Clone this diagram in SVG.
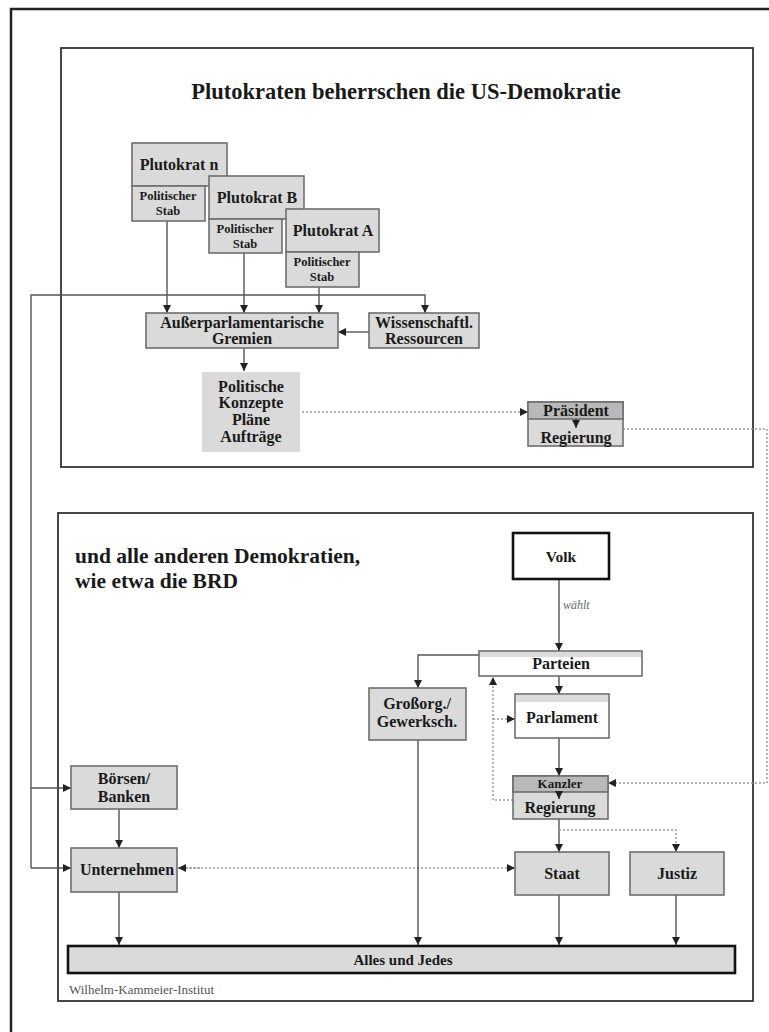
<svg xmlns="http://www.w3.org/2000/svg" width="769" height="1032" viewBox="0 0 769 1032" font-family="'Liberation Serif', 'DejaVu Serif', serif">
<style>
text{font-family:'Liberation Serif','DejaVu Serif',serif;font-weight:700;fill:#1a1a1a;text-anchor:middle}
.box{fill:#dadada;stroke:#6e6e6e;stroke-width:1.6}
.dark{fill:#b9b9b9;stroke:#6e6e6e;stroke-width:1.6}
.wbox{fill:#ffffff;stroke:#6e6e6e;stroke-width:1.6}
.frame{fill:none;stroke:#333;stroke-width:1.8}
.ln{fill:none;stroke:#555;stroke-width:1.4}
.dot{fill:none;stroke:#9a9a9a;stroke-width:1.5;stroke-dasharray:2 2}
.t15{font-size:16px}
.t11{font-size:12.5px}
</style>
<defs>
<marker id="ah" viewBox="0 0 10 10" refX="10" refY="5" markerWidth="8" markerHeight="8" markerUnits="userSpaceOnUse" orient="auto">
<path d="M0,0 L10,5 L0,10 z" fill="#222"/>
</marker>
</defs>
<rect width="769" height="1032" fill="#ffffff"/>
<rect x="11" y="9" width="800" height="1100" fill="none" stroke="#222" stroke-width="2.5"/>
<rect class="frame" x="61" y="48" width="692" height="419"/>
<rect class="frame" x="58" y="513" width="695" height="488"/>
<text x="406" y="99" style="font-size:22.5px">Plutokraten beherrschen die US-Demokratie</text>
<text x="75" y="563" style="font-size:21.5px;text-anchor:start">und alle anderen Demokratien,</text>
<text x="75" y="588" style="font-size:21.5px;text-anchor:start">wie etwa die BRD</text>
<text x="69" y="994" style="font-size:13px;font-weight:normal;fill:#555;text-anchor:start">Wilhelm-Kammeier-Institut</text>

<g id="connectors">
<line class="ln" x1="167" y1="221" x2="167" y2="313" marker-end="url(#ah)"/>
<line class="ln" x1="244" y1="253" x2="244" y2="313" marker-end="url(#ah)"/>
<line class="ln" x1="319" y1="287" x2="319" y2="313" marker-end="url(#ah)"/>
<polyline class="ln" points="31,868 31,295 425,295 425,313" marker-end="url(#ah)"/>
<line class="ln" x1="31" y1="788" x2="71" y2="788" marker-end="url(#ah)"/>
<line class="ln" x1="31" y1="868" x2="71" y2="868" marker-end="url(#ah)"/>
<line class="ln" x1="369" y1="332" x2="338" y2="332" marker-end="url(#ah)"/>
<line class="ln" x1="244" y1="348" x2="244" y2="371" marker-end="url(#ah)"/>
<line class="dot" x1="302" y1="412" x2="528" y2="412" marker-end="url(#ah)"/>
<polyline class="dot" points="623,429 767,429 767,783 608,783" marker-end="url(#ah)"/>
<line class="ln" x1="559" y1="579" x2="559" y2="651" marker-end="url(#ah)"/>
<line class="ln" x1="559" y1="676" x2="559" y2="694" marker-end="url(#ah)"/>
<polyline class="ln" points="479,655 418,655 418,688" marker-end="url(#ah)"/>
<line class="ln" x1="559" y1="738" x2="559" y2="776" marker-end="url(#ah)"/>
<polyline class="dot" points="513,800 493,800 493,677" marker-end="url(#ah)"/>
<line class="dot" x1="493" y1="719" x2="515" y2="719" marker-end="url(#ah)"/>
<line class="ln" x1="559" y1="819" x2="559" y2="852" marker-end="url(#ah)"/>
<polyline class="dot" points="559,830 676,830 676,852" marker-end="url(#ah)"/>
<line class="ln" x1="119" y1="809" x2="119" y2="848" marker-end="url(#ah)"/>
<line class="dot" x1="185" y1="868" x2="515" y2="868" marker-end="url(#ah)"/>
<line class="dot" x1="200" y1="868" x2="178" y2="868" marker-end="url(#ah)"/>
<line class="ln" x1="119" y1="892" x2="119" y2="945" marker-end="url(#ah)"/>
<line class="ln" x1="418" y1="740" x2="418" y2="945" marker-end="url(#ah)"/>
<line class="ln" x1="559" y1="895" x2="559" y2="945" marker-end="url(#ah)"/>
<line class="ln" x1="676" y1="895" x2="676" y2="945" marker-end="url(#ah)"/>
</g>

<g id="plutokrat-n">
<rect class="box" x="132" y="143" width="95" height="43"/>
<text class="t15" x="179" y="170">Plutokrat n</text>
<rect class="box" x="132" y="186" width="73" height="35"/>
<text class="t11" x="168" y="200">Politischer</text>
<text class="t11" x="168" y="215">Stab</text>
</g>
<g id="plutokrat-b">
<rect class="box" x="209" y="176" width="95" height="43"/>
<text class="t15" x="257" y="203">Plutokrat B</text>
<rect class="box" x="209" y="219" width="73" height="34"/>
<text class="t11" x="245" y="233">Politischer</text>
<text class="t11" x="245" y="248">Stab</text>
</g>
<g id="plutokrat-a">
<rect class="box" x="286" y="209" width="93" height="43"/>
<text class="t15" x="333" y="236">Plutokrat A</text>
<rect class="box" x="286" y="252" width="73" height="35"/>
<text class="t11" x="322" y="266">Politischer</text>
<text class="t11" x="322" y="281">Stab</text>
</g>
<g id="gremien">
<rect class="box" x="146" y="313" width="192" height="35"/>
<text class="t15" x="242" y="328">Außerparlamentarische</text>
<text class="t15" x="242" y="344">Gremien</text>
</g>
<g id="wissenschaft">
<rect class="box" x="369" y="313" width="110" height="35"/>
<text class="t15" x="424" y="328">Wissenschaftl.</text>
<text class="t15" x="424" y="344">Ressourcen</text>
</g>
<g id="konzepte">
<rect x="202" y="372" width="98" height="80" fill="#dadada"/>
<text class="t15" x="251" y="392">Politische</text>
<text class="t15" x="251" y="408">Konzepte</text>
<text class="t15" x="251" y="425">Pläne</text>
<text class="t15" x="251" y="442">Aufträge</text>
</g>
<g id="praesident">
<rect class="box" x="528" y="402" width="95" height="44"/>
<rect class="dark" x="528" y="402" width="95" height="17"/>
<text class="t15" x="576" y="416">Präsident</text>
<line x1="576" y1="419" x2="576" y2="428" stroke="#333" stroke-width="1.2" marker-end="url(#ah)"/>
<text class="t15" x="576" y="443">Regierung</text>
</g>
<g id="volk">
<rect x="513" y="533" width="96" height="46" fill="#fff" stroke="#111" stroke-width="2.6"/>
<text x="561" y="562" style="font-size:15.5px">Volk</text>
<text x="563" y="609" style="font-size:12px;font-weight:normal;font-style:italic;fill:#666;text-anchor:start">wählt</text>
</g>
<g id="parteien">
<rect class="wbox" x="479" y="651" width="163" height="25"/>
<rect x="480" y="652" width="161" height="5" fill="#dcdcdc"/>
<text class="t15" x="561" y="669">Parteien</text>
</g>
<g id="parlament">
<rect class="wbox" x="515" y="694" width="94" height="44"/>
<rect x="516" y="695" width="92" height="7" fill="#dcdcdc"/>
<text class="t15" x="562" y="723">Parlament</text>
</g>
<g id="grossorg">
<rect class="box" x="369" y="688" width="97" height="52"/>
<text class="t15" x="417" y="709">Großorg./</text>
<text class="t15" x="417" y="727">Gewerksch.</text>
</g>
<g id="kanzler">
<rect class="box" x="513" y="776" width="95" height="43"/>
<rect class="dark" x="513" y="776" width="95" height="16"/>
<text x="560" y="788" style="font-size:13px">Kanzler</text>
<line x1="559" y1="791" x2="559" y2="799" stroke="#333" stroke-width="1.2" marker-end="url(#ah)"/>
<text class="t15" x="560" y="813">Regierung</text>
</g>
<g id="boersen">
<rect class="box" x="71" y="766" width="106" height="43"/>
<text class="t15" x="124" y="784">Börsen/</text>
<text class="t15" x="124" y="802">Banken</text>
</g>
<g id="unternehmen">
<rect class="box" x="71" y="848" width="106" height="44"/>
<text class="t15" x="127" y="875">Unternehmen</text>
</g>
<g id="staat">
<rect class="box" x="515" y="852" width="94" height="43"/>
<text class="t15" x="562" y="879">Staat</text>
</g>
<g id="justiz">
<rect class="box" x="630" y="852" width="94" height="43"/>
<text class="t15" x="677" y="879">Justiz</text>
</g>
<g id="alles">
<rect x="68" y="946" width="667" height="27" fill="#dadada" stroke="#111" stroke-width="2.6"/>
<text x="403" y="965" style="font-size:15px">Alles und Jedes</text>
</g>
</svg>
